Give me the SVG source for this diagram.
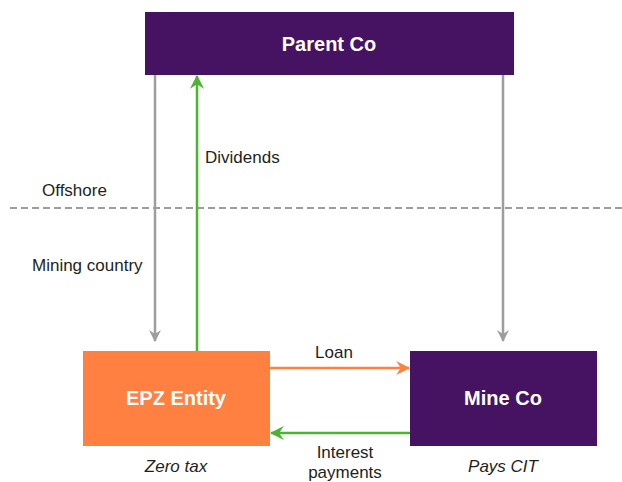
<svg xmlns="http://www.w3.org/2000/svg" width="622" height="482" viewBox="0 0 622 482">
<style>
text{font-family:"Liberation Sans Narrow","Liberation Sans",Arial,sans-serif;fill:#231f20;font-size:17px}
.box{font-weight:bold;fill:#fff;font-size:20px;text-anchor:middle}
.it{font-style:italic;text-anchor:middle}
.gray{stroke:#9d9d9f;stroke-width:2.5;fill:none}
.green{stroke:#4eb332;stroke-width:2.5;fill:none}
.orange{stroke:#ff8041;stroke-width:2.5;fill:none}
</style>
<defs>
<marker id="ag" viewBox="0 0 12 12" refX="11" refY="6" markerWidth="12" markerHeight="12" markerUnits="userSpaceOnUse" orient="auto"><path d="M0,0 L12,6 L0,12 L4,6 Z" fill="#9d9d9f"/></marker>
<marker id="agr" viewBox="0 0 12 12" refX="11" refY="6" markerWidth="14" markerHeight="14" markerUnits="userSpaceOnUse" orient="auto"><path d="M0,0 L12,6 L0,12 L4,6 Z" fill="#4eb332"/></marker>
<marker id="ao" viewBox="0 0 12 12" refX="11" refY="6" markerWidth="14" markerHeight="14" markerUnits="userSpaceOnUse" orient="auto"><path d="M0,0 L12,6 L0,12 L4,6 Z" fill="#ff8041"/></marker>
</defs>
<rect width="622" height="482" fill="#fff"/>
<line x1="10" y1="208" x2="622" y2="208" stroke="#9d9d9f" stroke-width="2" stroke-dasharray="7,4"/>
<text x="42" y="196">Offshore</text>
<text x="32" y="271">Mining country</text>
<g id="connectors">
<line class="gray" x1="155" y1="75" x2="155" y2="341" marker-end="url(#ag)"/>
<line class="gray" x1="503" y1="75" x2="503" y2="341" marker-end="url(#ag)"/>
<line class="green" x1="197" y1="351" x2="197" y2="76" marker-end="url(#agr)"/>
<text x="205" y="163">Dividends</text>
<line class="orange" x1="270" y1="368" x2="409" y2="368" marker-end="url(#ao)"/>
<text x="334" y="358" text-anchor="middle">Loan</text>
<line class="green" x1="410" y1="433" x2="271" y2="433" marker-end="url(#agr)"/>
<text x="345" y="458" text-anchor="middle">Interest</text>
<text x="345" y="478" text-anchor="middle">payments</text>
</g>
<g id="parent">
<rect x="145" y="12" width="369" height="63" fill="#451361"/>
<text class="box" x="329" y="51">Parent Co</text>
</g>
<g id="epz">
<rect x="83" y="351" width="187" height="95" fill="#ff8041"/>
<text class="box" x="176" y="405">EPZ Entity</text>
<text class="it" x="176" y="472">Zero tax</text>
</g>
<g id="mine">
<rect x="410" y="351" width="187" height="95" fill="#451361"/>
<text class="box" x="503" y="405">Mine Co</text>
<text class="it" x="503" y="472">Pays CIT</text>
</g>
</svg>
